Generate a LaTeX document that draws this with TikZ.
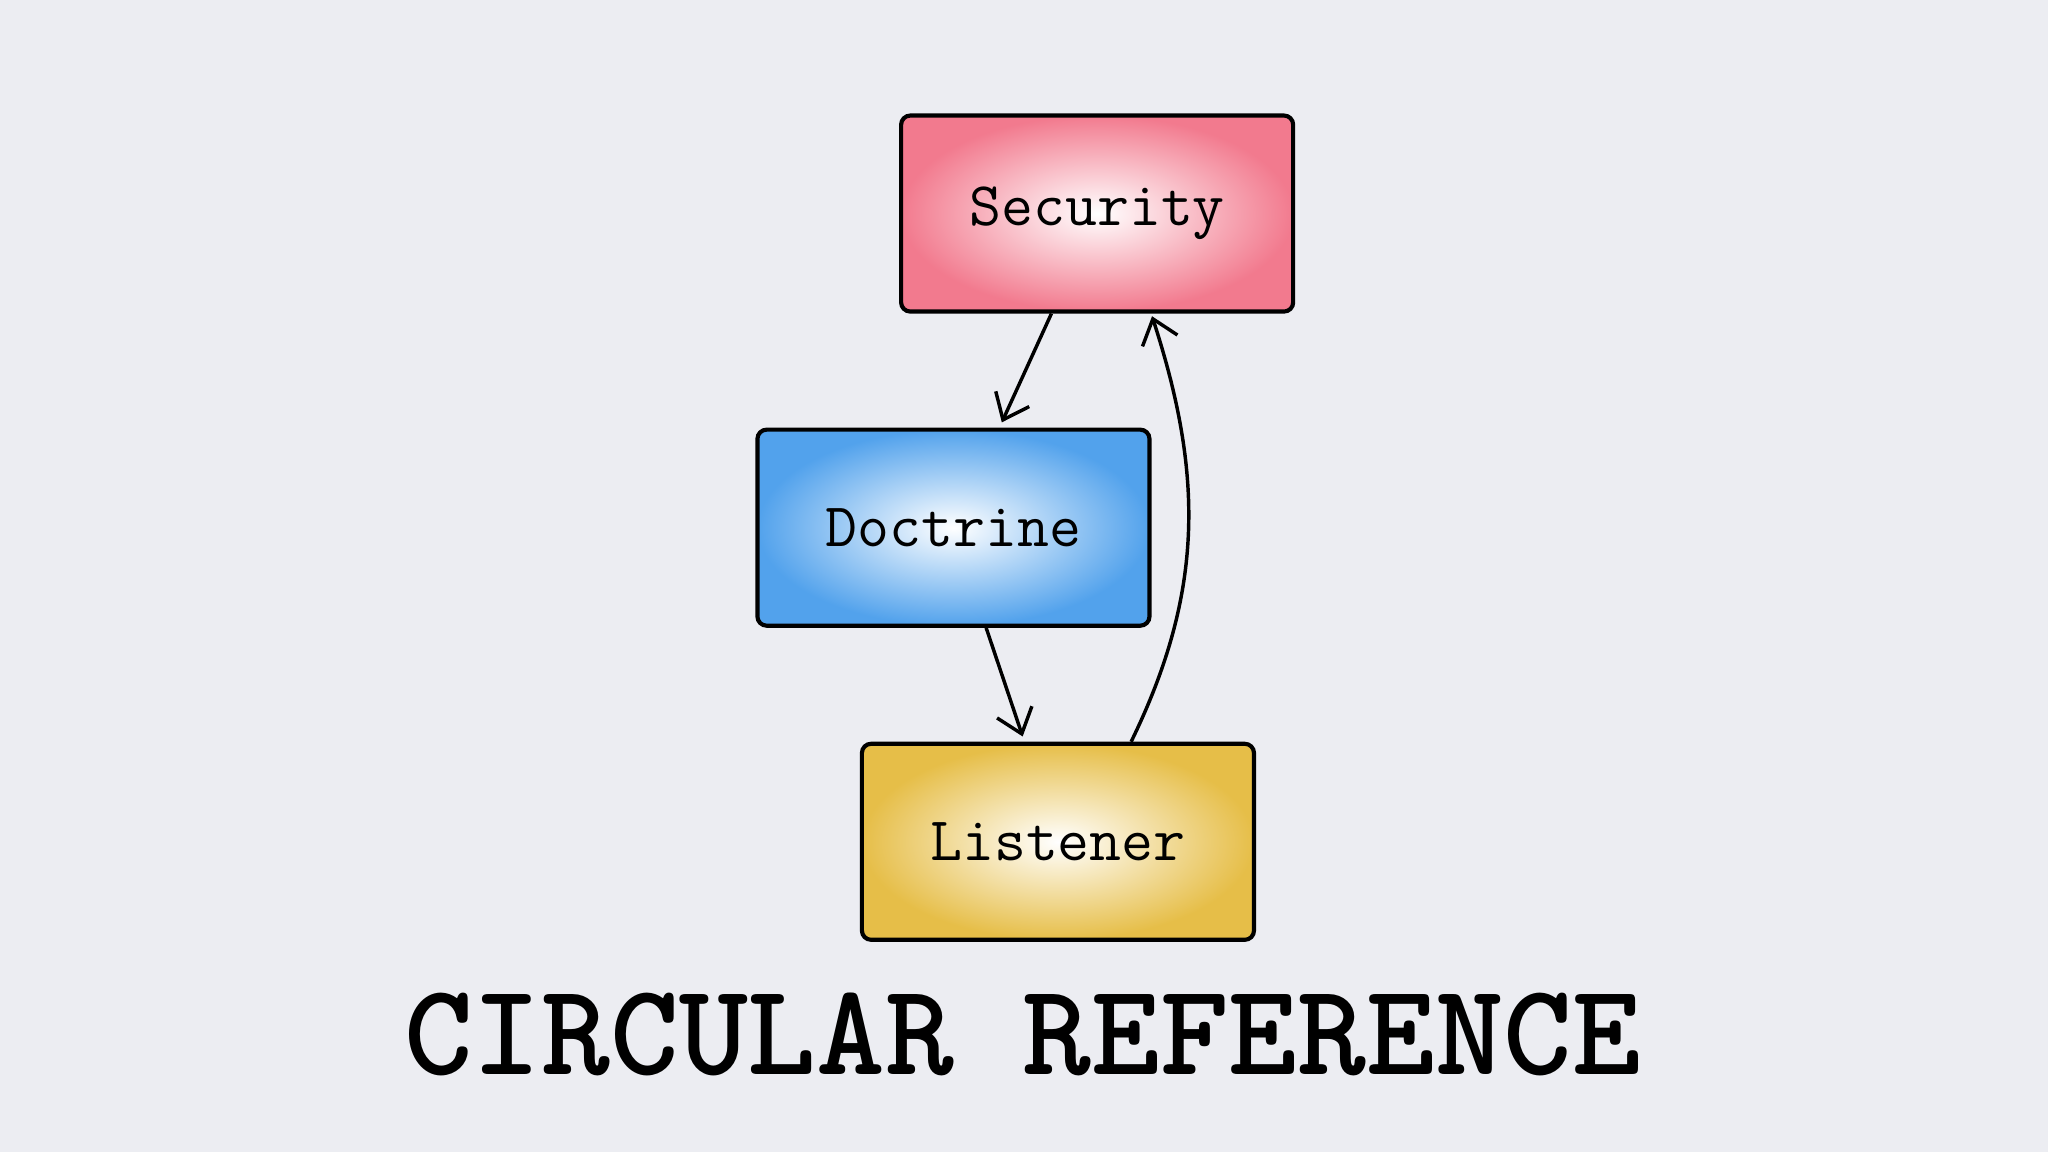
\documentclass[tikz,border=0pt]{standalone}
\usepackage{fontspec}
\usetikzlibrary{arrows.meta}
\definecolor{bg}{RGB}{236,237,242}
\definecolor{pinkc}{RGB}{242,122,142}
\definecolor{bluec}{RGB}{82,162,236}
\definecolor{yelc}{RGB}{230,190,72}
\tikzset{
 box/.style={draw=black,line width=0.9pt,rounded corners=2pt,minimum width=3cm,minimum height=1.5cm,inner color=white,font=\ttfamily\fontsize{13.5}{16}\selectfont},
 conn/.style={line width=0.75pt,-{Straight Barb[length=5pt,width=8pt]}}
}
\begin{document}
\begin{tikzpicture}[x=0.01cm,y=-0.01cm]
\fill[bg] (0,0) rectangle (1568,882);
\useasboundingbox (0,0) rectangle (1568,882);
\node[box,outer color=pinkc] (sec) at (840,163.5) {Security};
\node[box,outer color=bluec] (doc) at (730,404) {Doctrine};
\node[box,outer color=yelc] (lis) at (810,644.5) {Listener};
\draw[conn] ([xshift=-0.35cm]sec.south) -- ([xshift=0.37cm,yshift=0.04cm]doc.north);
\draw[conn] ([xshift=0.25cm]doc.south) -- ([xshift=-0.27cm,yshift=0.04cm]lis.north);
\draw[conn] ([xshift=0.56cm]lis.north) to[out=64,in=-72] ([xshift=0.42cm,yshift=-0.02cm]sec.south);
\node[font=\ttfamily\bfseries\fontsize{28.5}{34}\selectfont] (title) at (783,792) {CIRCULAR REFERENCE};
\end{tikzpicture}
\end{document}
